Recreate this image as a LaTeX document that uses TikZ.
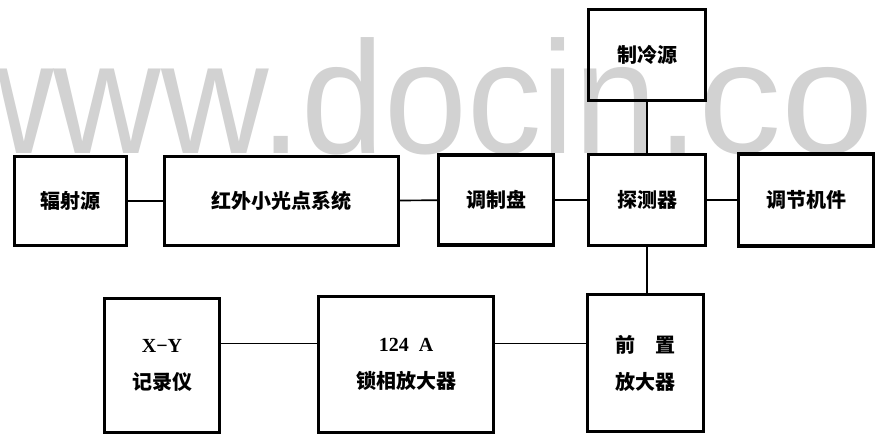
\documentclass[tikz,border=0pt]{standalone}
\usepackage{fontspec}
\setmainfont{Liberation Serif}
\newfontfamily\cjk{Noto Sans CJK SC}
\newfontfamily\wmfont{Liberation Sans}
\definecolor{wmgray}{RGB}{210,210,210}
\tikzset{
  box/.style={draw, line width=3.2pt, inner sep=0pt, align=center,
    font=\cjk\bfseries\fontsize{20}{37}\selectfont},
  link/.style={line width=1.7pt}
}
\begin{document}
\begin{tikzpicture}[x=1pt,y=-1pt]
\clip (0,0) rectangle (880,436);
\fill[white] (0,0) rectangle (880,436);
% watermark
\node[anchor=base west, inner sep=0pt, text=wmgray,
      font=\wmfont\fontsize{160}{160}\selectfont] (wm) at (-54,153)
      {\scalebox{0.93}[1]{www.docin.}\scalebox{1.04}[1]{co}};
% boxes
\node[box, minimum width=112pt, minimum height=89pt] (fs) at (70.5,201) {辐射源};
\node[box, minimum width=234pt, minimum height=89pt] (hw) at (281.5,201) {红外小光点系统};
\node[box, minimum width=115pt, minimum height=90pt] (tz) at (496,200) {调制盘};
\node[box, minimum width=117pt, minimum height=91pt] (tc) at (647,200) {探测器};
\node[box, minimum width=135pt, minimum height=92pt] (tj) at (806,200) {调节机件};
\node[box, minimum width=117pt, minimum height=91pt] (zl) at (647,55) {制冷源};
\node[box, minimum width=116pt, minimum height=137pt] (qz) at (645.5,363) {前\hspace{1em}置\\放大器};
\node[box, minimum width=175pt, minimum height=136pt] (sx) at (406,364.5) {{\rmfamily 124\enspace A}\\锁相放大器};
\node[box, minimum width=115pt, minimum height=134pt] (xy) at (162,365.5) {{\rmfamily X−Y}\\记录仪};
% connectors
\draw[link] (fs) -- (hw);
\draw[link] (hw) -- (tz);
\draw[link] (tz) -- (tc);
\draw[link] (tc) -- (tj);
\draw[link] (zl) -- (tc);
\draw[link] (tc.south) -- (tc.south |- qz.north);
\draw[link] ([yshift=22pt]xy.east) -- ([yshift=22pt]xy.east -| sx.west);
\draw[link] ([yshift=21pt]sx.east) -- ([yshift=21pt]sx.east -| qz.west);
\end{tikzpicture}
\end{document}
